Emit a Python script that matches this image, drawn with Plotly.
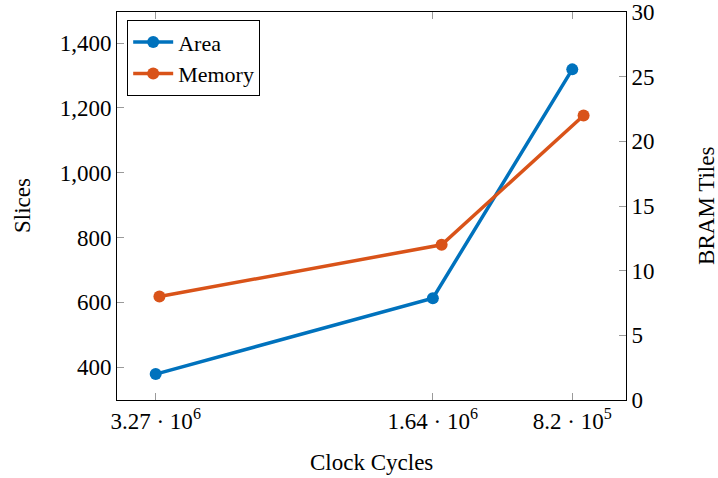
import plotly.graph_objects as go

# Data
clock_cycles = [3.27e6, 1.64e6, 8.2e5]
tick_labels = ["3.27 · 10<sup>6</sup>", "1.64 · 10<sup>6</sup>", "8.2 · 10<sup>5</sup>"]
area_slices = [379, 613, 1319]
memory_bram = [8, 12, 22]
slices_ticks = [400, 600, 800, 1000, 1200, 1400]
bram_ticks = [0, 5, 10, 15, 20, 25, 30]

FONT = "Liberation Serif"
FS = 23
BLUE = "#0072BD"
ORANGE = "#D95319"
TICKC = "#9a9a9a"

fig = go.Figure()
fig.add_trace(go.Scatter(
    x=clock_cycles, y=area_slices, name="Area", mode="lines+markers",
    line=dict(color=BLUE, width=3.5), marker=dict(size=12, color=BLUE),
    xaxis="x", yaxis="y"))
fig.add_trace(go.Scatter(
    x=clock_cycles, y=memory_bram, name="Memory", mode="lines+markers",
    line=dict(color=ORANGE, width=3.5), marker=dict(size=12, color=ORANGE),
    xaxis="x2", yaxis="y2"))

fig.update_layout(
    width=718, height=478,
    margin=dict(l=117, r=92, t=12, b=78, autoexpand=False),
    paper_bgcolor="white", plot_bgcolor="white",
    font=dict(family=FONT, size=FS, color="black"),
    showlegend=True,
    legend=dict(x=0.02, y=0.979, xanchor="left", yanchor="top",
                bordercolor="black", borderwidth=1, bgcolor="white",
                font=dict(family=FONT, size=22), tracegroupgap=0,
                itemwidth=40),
    xaxis=dict(
        range=[3.4976e6, 0.504e6],
        tickvals=clock_cycles, ticktext=tick_labels,
        ticks="inside", ticklen=7, tickcolor=TICKC,
        showline=True, linecolor="black", linewidth=1, mirror="ticks",
        showgrid=False, zeroline=False, automargin=False,
    ),
    xaxis2=dict(
        range=[3.515e6, 0.575e6], overlaying="x", visible=False,
        showgrid=False, zeroline=False,
    ),
    yaxis=dict(
        range=[299, 1496],
        tickvals=slices_ticks, tickformat=",d",
        ticks="inside", ticklen=7, tickcolor=TICKC,
        showline=True, linecolor="black", linewidth=1, mirror=False,
        showgrid=False, zeroline=False, automargin=False,
    ),
    yaxis2=dict(
        range=[0, 30], overlaying="y", side="right", anchor="x",
        tickvals=bram_ticks,
        ticks="inside", ticklen=7, tickcolor=TICKC,
        showline=True, linecolor="black", linewidth=1,
        showgrid=False, zeroline=False, automargin=False,
    ),
    annotations=[
        dict(text="Slices", xref="paper", yref="paper", x=-0.1866, y=0.5,
             textangle=-90, showarrow=False, xanchor="center", yanchor="middle",
             font=dict(family=FONT, size=FS)),
        dict(text="BRAM Tiles", xref="paper", yref="paper", x=1.157, y=0.5,
             textangle=-90, showarrow=False, xanchor="center", yanchor="middle",
             font=dict(family=FONT, size=FS)),
        dict(text="Clock Cycles", xref="paper", yref="paper", x=0.5, y=-0.16,
             showarrow=False, xanchor="center", yanchor="middle",
             font=dict(family=FONT, size=FS)),
    ],
)

fig.write_html("out.html", config={"displayModeBar": False},
               post_script="document.body.style.margin='0';document.body.style.overflow='hidden';")
